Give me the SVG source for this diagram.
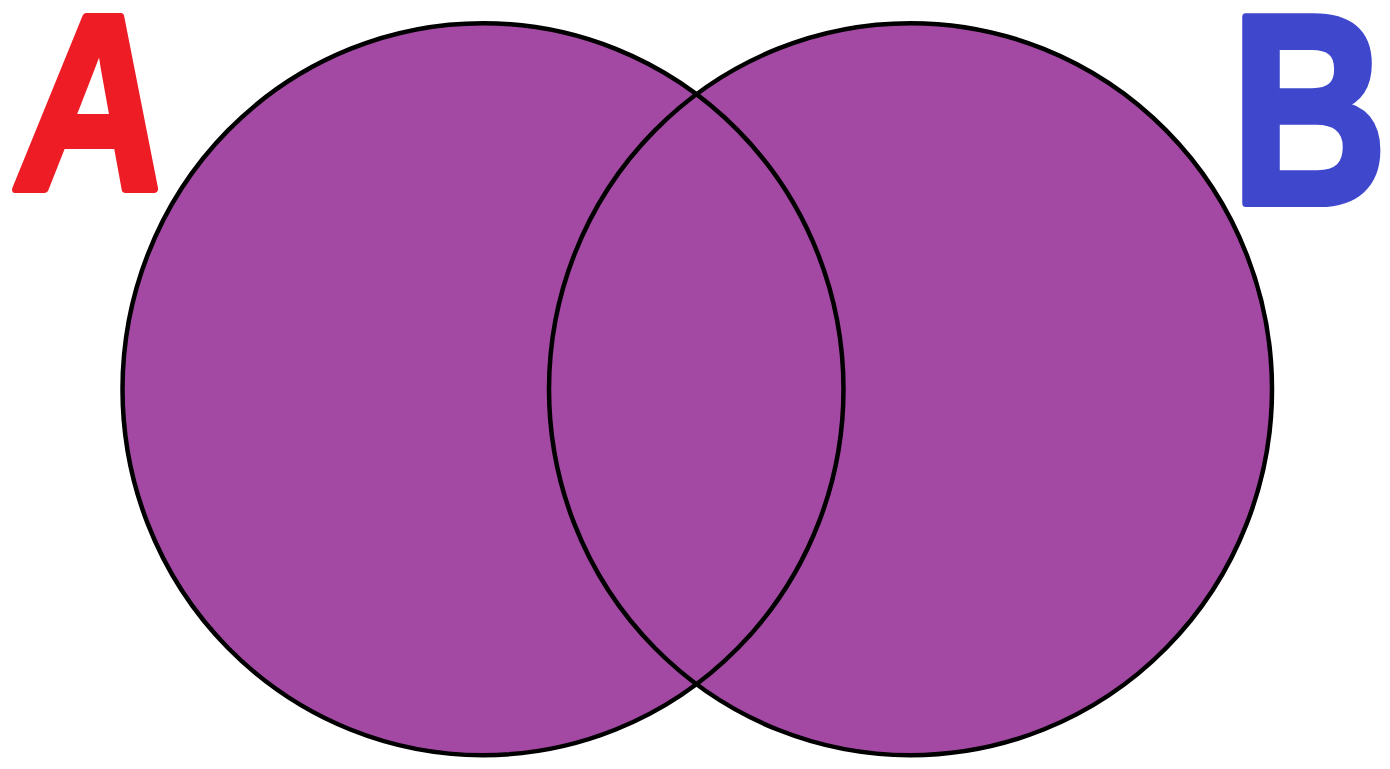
<svg xmlns="http://www.w3.org/2000/svg" width="1390" height="769" viewBox="0 0 1390 769">
<style>
.set{fill:#A349A4;stroke:none}
.edge{fill:none;stroke:#000;stroke-width:4.5}
.lbl{font-family:"Liberation Sans",Arial,sans-serif;font-weight:bold;stroke-width:8;stroke-linejoin:round}
</style>
<rect width="1390" height="769" fill="#fff"/>
<g id="circleA"><ellipse class="set" cx="483" cy="389.2" rx="360.5" ry="366"/></g>
<g id="circleB"><ellipse class="set" cx="910.5" cy="389.2" rx="361.5" ry="366"/></g>
<g id="outlines">
<ellipse class="edge" cx="483" cy="389.2" rx="360.5" ry="366"/>
<ellipse class="edge" cx="910.5" cy="389.2" rx="361.5" ry="366"/>
</g>
<g id="labelA"><text class="lbl" x="30" y="189" font-size="250" fill="#EE1C25" stroke="#EE1C25" textLength="150" lengthAdjust="spacingAndGlyphs" transform="skewX(-6)">A</text></g>
<g id="labelB"><text class="lbl" x="0" y="0" font-size="270" fill="#3F48CC" stroke="#3F48CC" transform="translate(1231 203) scale(0.8 1)">B</text></g>
</svg>
